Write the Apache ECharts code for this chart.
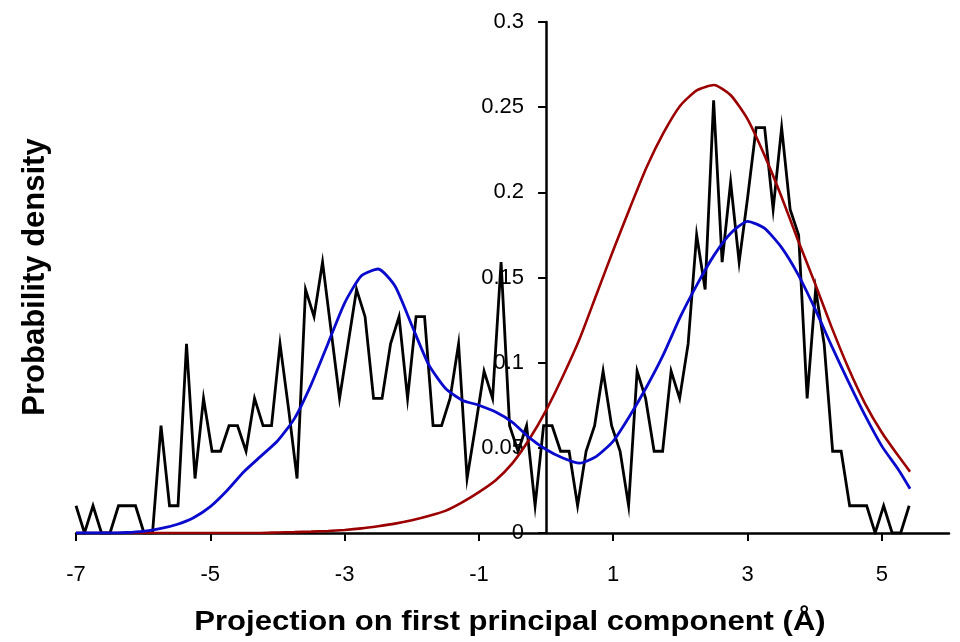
<!DOCTYPE html>
<html>
<head>
<meta charset="utf-8">
<script src="https://cdn.jsdelivr.net/npm/echarts@6/dist/echarts.min.js"></script>
<style>
html, body { margin: 0; padding: 0; background: #fff; }
#chart { width: 960px; height: 642px; }
</style>
</head>
<body>
<div id="chart"></div>
<script>
// histogram of the projection (black line), equal bins starting at -7
var histStart = -7;
var histStep = 0.1266;
var histY = [
    0.016, 0, 0.016, 0, 0, 0.016, 0.016, 0.016, 0, 0,
    0.063, 0.016, 0.016, 0.111, 0.032, 0.079, 0.048, 0.048, 0.063, 0.063,
    0.048, 0.079, 0.063, 0.063, 0.111, 0.073, 0.032, 0.143, 0.127, 0.159,
    0.119, 0.079, 0.111, 0.143, 0.127, 0.079, 0.079, 0.111, 0.127, 0.079,
    0.127, 0.127, 0.063, 0.063, 0.079, 0.111, 0.032, 0.063, 0.095, 0.079,
    0.159, 0.063, 0.048, 0.063, 0.016, 0.063, 0.063, 0.048, 0.048, 0.016,
    0.048, 0.063, 0.095, 0.063, 0.048, 0.016, 0.095, 0.079, 0.048, 0.048,
    0.095, 0.079, 0.111, 0.175, 0.143, 0.254, 0.159, 0.206, 0.159, 0.197,
    0.238, 0.238, 0.190, 0.238, 0.190, 0.175, 0.079, 0.143, 0.111, 0.048,
    0.048, 0.016, 0.016, 0.016, 0, 0.016, 0, 0, 0.016
];

var curveX = [
    -7, -6.75, -6.5, -6.25, -6, -5.75, -5.5, -5.25, -5, -4.75,
    -4.5, -4.25, -4, -3.75, -3.5, -3.25, -3, -2.75, -2.5, -2.25,
    -2, -1.75, -1.5, -1.25, -1, -0.75, -0.5, -0.25, 0, 0.25,
    0.5, 0.75, 1, 1.25, 1.5, 1.75, 2, 2.25, 2.5, 2.75,
    3, 3.25, 3.5, 3.75, 4, 4.25, 4.5, 4.75, 5, 5.25, 5.42
];
var blueY = [
    0, 0, 0, 0.0003, 0.001, 0.0025, 0.005, 0.009, 0.0155, 0.025,
    0.036, 0.045, 0.054, 0.067, 0.087, 0.111, 0.135, 0.151, 0.155, 0.145,
    0.122, 0.099, 0.085, 0.078, 0.075, 0.071, 0.065, 0.056, 0.049, 0.044,
    0.041, 0.045, 0.054, 0.069, 0.086, 0.105, 0.127, 0.146, 0.163, 0.176,
    0.183, 0.179, 0.168, 0.152, 0.132, 0.110, 0.089, 0.069, 0.051, 0.037, 0.026
];
var redY = [
    0, 0, 0, 0, 0, 0, 0, 0, 0, 0,
    0, 0, 0.0003, 0.0005, 0.0008, 0.0012, 0.0018, 0.0027, 0.004, 0.0055,
    0.0075, 0.010, 0.013, 0.018, 0.024, 0.031, 0.041, 0.055, 0.072, 0.092,
    0.114, 0.140, 0.166, 0.191, 0.215, 0.235, 0.251, 0.260, 0.263, 0.257,
    0.243, 0.222, 0.198, 0.172, 0.147, 0.121, 0.097, 0.076, 0.059, 0.045, 0.036
];

var xTicks = [-7, -5, -3, -1, 1, 3, 5];

var font = '"Liberation Sans", Arial, sans-serif';

function each(arr, fn) { for (var i = 0; i < arr.length; i++) fn(i, arr[i]); }

var histData = [];
each(histY, function (i, v) {
    histData.push([histStart + i * histStep, v]);
});

var blueData = [], redData = [];
each(curveX, function (i, x) {
    blueData.push([x, blueY[i]]);
    redData.push([x, redY[i]]);
});

var myChart = echarts.init(document.getElementById('chart'));

// grid: x from -7 (px 76) to 6 (px 949); y axis sits at x = 0
var gridLeft = 76, gridRight = 11;
var plotW = 960 - gridLeft - gridRight;
var yAxisShift = plotW * 7 / 13;

myChart.setOption({
    animation: false,
    backgroundColor: '#fff',
    grid: {left: gridLeft, right: gridRight, top: 22, bottom: 109},
    xAxis: {
        type: 'value',
        min: -7,
        max: 6,
        interval: 2,
        axisLine: {lineStyle: {color: '#000', width: 2.5}},
        axisTick: {show: true, length: 8, customValues: xTicks, lineStyle: {color: '#000', width: 2}},
        axisLabel: {customValues: xTicks, color: '#000', fontSize: 22, fontFamily: font, margin: 31},
        splitLine: {show: false}
    },
    yAxis: {
        type: 'value',
        min: 0,
        max: 0.3,
        interval: 0.05,
        offset: -yAxisShift,
        axisLine: {show: true, onZero: false, lineStyle: {color: '#000', width: 2.5}},
        axisTick: {show: true, length: 8, lineStyle: {color: '#000', width: 2}},
        axisLabel: {
            color: '#000', fontSize: 22, fontFamily: font, margin: 22,
            formatter: function (v) { return String(+v.toFixed(2)); }
        },
        splitLine: {show: false}
    },
    graphic: [
        {
            type: 'text', x: 510, y: 623, scaleX: 1.15,
            style: {
                text: 'Projection on first principal component (Å)',
                font: 'bold 27px ' + font, fill: '#000',
                textAlign: 'center', textVerticalAlign: 'middle'
            }
        },
        {
            type: 'text', x: 35, y: 277, rotation: Math.PI / 2,
            style: {
                text: 'Probability density',
                font: 'bold 31px ' + font, fill: '#000',
                textAlign: 'center', textVerticalAlign: 'middle'
            }
        }
    ],
    series: [
        {
            name: 'histogram',
            type: 'line',
            data: histData,
            symbol: 'none',
            lineStyle: {color: '#000', width: 2.8, join: 'miter'},
            z: 2
        },
        {
            name: 'fit',
            type: 'line',
            data: redData,
            smooth: 0.2,
            symbol: 'none',
            lineStyle: {color: '#9b0000', width: 2.6},
            z: 3
        },
        {
            name: 'mixture',
            type: 'line',
            data: blueData,
            smooth: 0.2,
            symbol: 'none',
            lineStyle: {color: '#0a0acc', width: 2.8},
            z: 4
        }
    ]
});
</script>
</body>
</html>
